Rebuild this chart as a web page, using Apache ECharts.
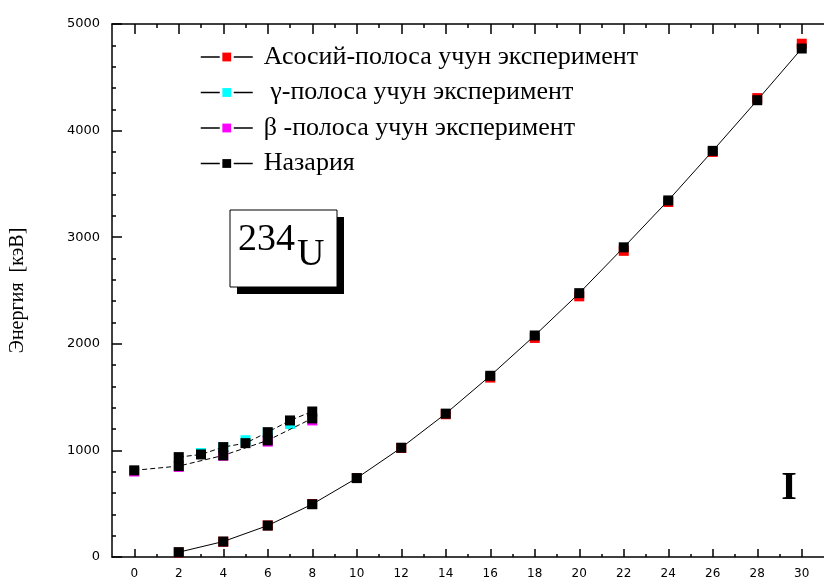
<!DOCTYPE html>
<html><head><meta charset="utf-8">
<script src="https://cdn.jsdelivr.net/npm/echarts@6/dist/echarts.min.js"></script>
<style>html,body{margin:0;padding:0;background:#fff}#c{width:824px;height:582px}</style>
</head><body><div id="c"></div>
<script>
// ---- data ----
const groundSpins   = [2, 4, 6, 8, 10, 12, 14, 16, 18, 20, 22, 24, 26, 28, 30];
const groundExp     = [43, 143, 296, 497, 741, 1023, 1339, 1683, 2055, 2445, 2872, 3330, 3800, 4305, 4815];
const groundTheory  = [45, 145, 295, 495, 740, 1025, 1345, 1700, 2078, 2475, 2905, 3345, 3810, 4285, 4770];
const gammaExpSpins = [2, 3, 4, 5, 6, 7];
const gammaExp      = [930, 975, 1028, 1095, 1165, 1248];
const gammaSpins    = [2, 3, 4, 5, 6, 7, 8];
const gammaTheory   = [937, 962, 1031, 1068, 1171, 1281, 1365];
const betaSpins     = [0, 2, 4, 6, 8];
const betaExp       = [802, 845, 950, 1082, 1281];
const betaTheory    = [813, 853, 953, 1094, 1300];
const xTicks        = [0, 2, 4, 6, 8, 10, 12, 14, 16, 18, 20, 22, 24, 26, 28, 30];
const xMinorTicks   = [1, 3, 5, 7, 9, 11, 13, 15, 17, 19, 21, 23, 25, 27, 29];
const yTicks        = [0, 1000, 2000, 3000, 4000, 5000];
const names = ['Асосий-полоса учун эксперимент', ' γ-полоса учун эксперимент', 'β -полоса учун эксперимент', 'Назария'];
const axisName = 'Энергия  [кэВ]';

const pairs = (xs, ys) => xs.map((x, i) => [x, ys[i]]);

const chart = echarts.init(document.getElementById('c'), null, {renderer: 'canvas'});
const black = '#000';
const lineW = 1.5;
function xAxisDef(pos, custom, len, showLine, showLabel) {
  return {
    type: 'value', min: -1, max: 31, position: pos, gridIndex: 0,
    axisLine: {show: showLine, onZero: false, lineStyle: {color: black, width: lineW}},
    axisTick: {show: true, inside: true, length: len, customValues: custom, lineStyle: {color: black, width: lineW}},
    axisLabel: {show: showLabel, customValues: xTicks, margin: 11, color: black, fontSize: 12, fontFamily: 'DejaVu Sans',
                formatter: v => String(v)},
    splitLine: {show: false}
  };
}
function expSeries(name, color, xs, ys) {
  return {
    name, type: 'line', data: pairs(xs, ys), symbol: 'rect', symbolSize: 10, showAllSymbol: true,
    itemStyle: {color}, lineStyle: {opacity: 0, width: 0}, z: 2, silent: true, animation: false
  };
}
function theorySeries(xs, ys, dashed) {
  return {
    name: names[3], type: 'line', data: pairs(xs, ys), symbol: 'rect', symbolSize: 10, showAllSymbol: true,
    itemStyle: {color: black}, lineStyle: {color: black, width: 1, type: dashed ? [5, 3] : 'solid'},
    z: 3, silent: true, animation: false
  };
}

chart.setOption({
  animation: false,
  backgroundColor: '#fff',
  grid: {left: 112, right: -6, top: 24, bottom: 25, containLabel: false},
  xAxis: [
    xAxisDef('bottom', xTicks, 8, true, true),
    xAxisDef('bottom', xMinorTicks, 3, false, false),
    xAxisDef('top', xTicks, 10, true, false),
    xAxisDef('top', xMinorTicks, 4, false, false)
  ],
  yAxis: [{
    type: 'value', min: 0, max: 5000, interval: 1000, position: 'left',
    name: axisName, nameLocation: 'middle', nameGap: 84, nameRotate: 90,
    nameTextStyle: {fontFamily: 'Liberation Serif', fontSize: 20, color: black},
    axisLine: {show: true, onZero: false, lineStyle: {color: black, width: lineW}},
    axisTick: {show: true, inside: true, length: 10, lineStyle: {color: black, width: lineW}},
    minorTick: {show: true, splitNumber: 5, length: 4, lineStyle: {color: black, width: lineW}},
    axisLabel: {customValues: yTicks, margin: 12, color: black, fontSize: 13, fontFamily: 'DejaVu Sans',
                formatter: v => String(v)},
    splitLine: {show: false}
  }],
  legend: {
    data: names, orient: 'vertical', left: 200, top: 44, padding: 0,
    itemWidth: 52, itemHeight: 11, itemGap: 9.5, selectedMode: false,
    lineStyle: {color: black, width: 1.5, opacity: 1, type: [19, 14]},
    textStyle: {fontFamily: 'Liberation Serif', fontSize: 26, lineHeight: 26, color: black, padding: [0, 0, 0, 6]}
  },
  series: [
    expSeries(names[0], '#ff0000', groundSpins, groundExp),
    expSeries(names[1], '#00ffff', gammaExpSpins, gammaExp),
    expSeries(names[2], '#ff00ff', betaSpins, betaExp),
    theorySeries(groundSpins, groundTheory, false),
    theorySeries(gammaSpins, gammaTheory, true),
    theorySeries(betaSpins, betaTheory, true)
  ],
  graphic: [
    {type: 'rect', shape: {x: 237, y: 217, width: 107, height: 77}, style: {fill: black}, z: 10},
    {type: 'rect', shape: {x: 230, y: 210, width: 107, height: 77}, style: {fill: '#fff', stroke: black, lineWidth: 1}, z: 11},
    {type: 'text', x: 238, y: 240, style: {text: '234', font: '38px "Liberation Serif"', fill: black, align: 'left', verticalAlign: 'middle'}, z: 12},
    {type: 'text', x: 297, y: 255, style: {text: 'U', font: '38px "Liberation Serif"', fill: black, align: 'left', verticalAlign: 'middle'}, z: 12},
    {type: 'text', x: 789, y: 489, style: {text: 'I', font: 'bold 40px "Liberation Serif"', fill: black, align: 'center', verticalAlign: 'middle'}, z: 12}
  ]
});
</script>
</body></html>
